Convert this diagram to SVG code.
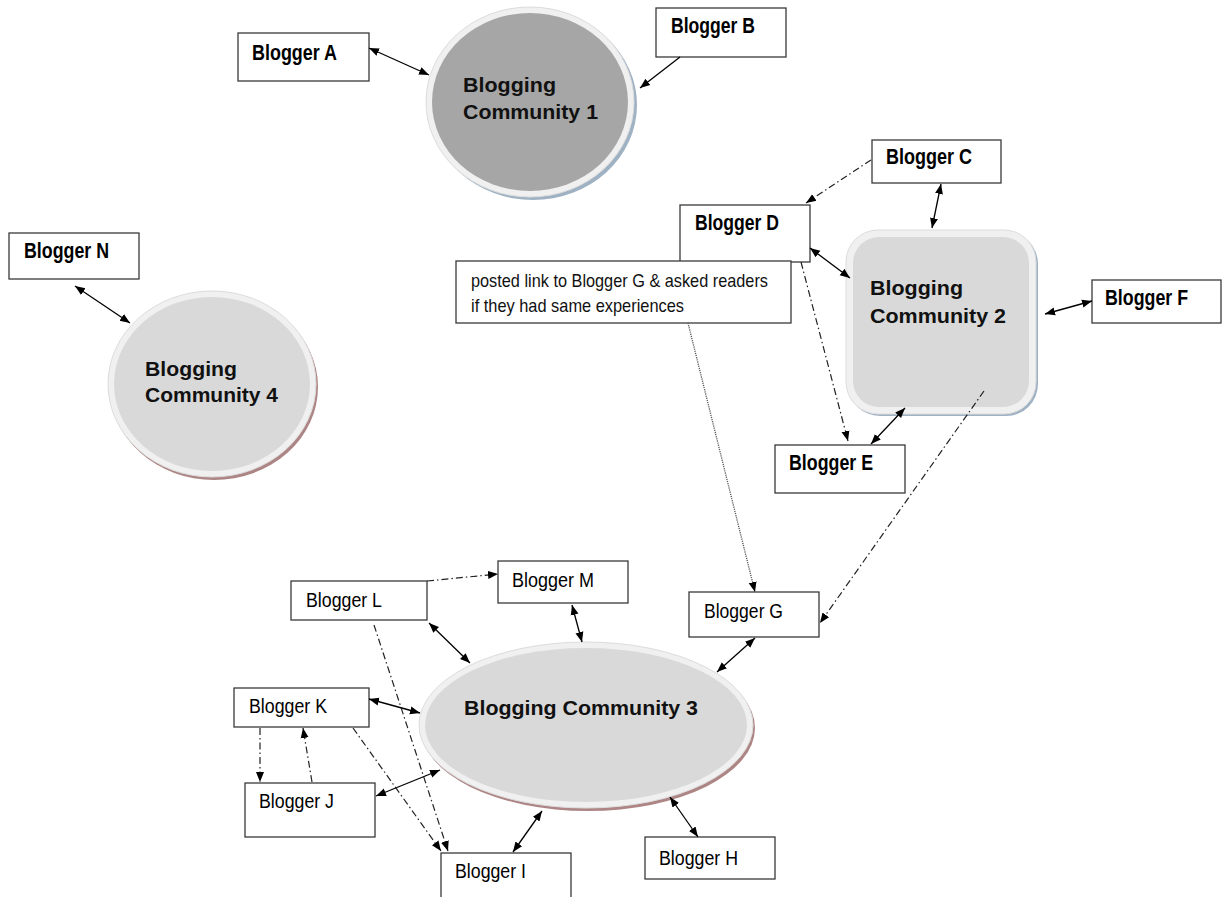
<svg xmlns="http://www.w3.org/2000/svg" width="1222" height="897" viewBox="0 0 1222 897">
<style>
.box{fill:#fff;stroke:#3a3a3a;stroke-width:1.3}
.bt{font-family:"Liberation Sans Narrow","Liberation Sans",Arial,sans-serif;font-weight:bold;font-size:22px;fill:#000}
.rt{font-family:"Liberation Sans Narrow","Liberation Sans",Arial,sans-serif;font-size:20px;fill:#000}
.nt{font-family:"Liberation Sans Narrow","Liberation Sans",Arial,sans-serif;font-size:19px;fill:#111}
.ct{font-family:"Liberation Sans",Arial,sans-serif;font-weight:bold;font-size:21px;fill:#111}
.rim{fill:#f0f0f0;stroke:#dcdcdc;stroke-width:1}
.shb{fill:#9fb2c4}
.shr{fill:#ad8585}
.solid{stroke:#000;stroke-width:1.3;fill:none}
.dd{stroke:#222;stroke-width:1.2;fill:none;stroke-dasharray:7 3 1.5 3}
.dot{stroke:#555;stroke-width:1.3;fill:none;stroke-dasharray:1.2 1}
</style>
<defs>
<marker id="ah" viewBox="0 0 10 10" refX="10" refY="5" markerWidth="10" markerHeight="10" markerUnits="userSpaceOnUse" orient="auto-start-reverse">
<path d="M0,1 L10,5 L0,9 z" fill="#000"/>
</marker>
</defs>
<rect width="1222" height="897" fill="#fff"/>

<g id="community1">
<ellipse cx="533" cy="105" rx="104" ry="95" class="shb"/>
<ellipse cx="530" cy="102" rx="104" ry="95" class="rim"/>
<ellipse cx="530" cy="102" rx="98" ry="89" fill="#a6a6a6"/>
<text class="ct" x="463" y="92" textLength="93" lengthAdjust="spacingAndGlyphs">Blogging</text>
<text class="ct" x="463" y="119" textLength="135" lengthAdjust="spacingAndGlyphs">Community 1</text>
</g>

<g id="community2">
<rect x="848" y="232" width="190" height="184" rx="32" class="shb"/>
<rect x="846" y="230" width="190" height="184" rx="32" class="rim"/>
<rect x="853" y="237" width="176" height="170" rx="26" fill="#d9d9d9"/>
<text class="ct" x="870" y="295" textLength="93" lengthAdjust="spacingAndGlyphs">Blogging</text>
<text class="ct" x="870" y="323" textLength="136" lengthAdjust="spacingAndGlyphs">Community 2</text>
</g>

<g id="community4">
<ellipse cx="214" cy="387" rx="104" ry="93" class="shr"/>
<ellipse cx="212" cy="384" rx="104" ry="93" class="rim"/>
<ellipse cx="212" cy="384" rx="98" ry="87" fill="#d9d9d9"/>
<text class="ct" x="145" y="376" textLength="92" lengthAdjust="spacingAndGlyphs">Blogging</text>
<text class="ct" x="145" y="402" textLength="133" lengthAdjust="spacingAndGlyphs">Community 4</text>
</g>

<g id="community3">
<ellipse cx="588" cy="728" rx="167" ry="83" class="shr"/>
<ellipse cx="586" cy="725" rx="167" ry="83" class="rim"/>
<ellipse cx="586" cy="725" rx="161" ry="77" fill="#d9d9d9"/>
<text class="ct" x="464" y="715" textLength="234" lengthAdjust="spacingAndGlyphs">Blogging Community 3</text>
</g>

<g id="bloggerA"><rect class="box" x="238" y="33" width="131" height="48"/><text class="bt" x="252" y="60" textLength="85" lengthAdjust="spacingAndGlyphs">Blogger A</text></g>
<g id="bloggerB"><rect class="box" x="656" y="8" width="130" height="49"/><text class="bt" x="671" y="33" textLength="84" lengthAdjust="spacingAndGlyphs">Blogger B</text></g>
<g id="bloggerC"><rect class="box" x="872" y="140" width="129" height="43"/><text class="bt" x="886" y="164" textLength="86" lengthAdjust="spacingAndGlyphs">Blogger C</text></g>
<g id="bloggerD"><rect class="box" x="680" y="205" width="130" height="57"/><text class="bt" x="695" y="230" textLength="84" lengthAdjust="spacingAndGlyphs">Blogger D</text></g>
<g id="bloggerE"><rect class="box" x="775" y="445" width="130" height="48"/><text class="bt" x="789" y="470" textLength="84" lengthAdjust="spacingAndGlyphs">Blogger E</text></g>
<g id="bloggerF"><rect class="box" x="1092" y="280" width="129" height="43"/><text class="bt" x="1105" y="305" textLength="83" lengthAdjust="spacingAndGlyphs">Blogger F</text></g>
<g id="bloggerN"><rect class="box" x="9" y="233" width="130" height="46"/><text class="bt" x="24" y="258" textLength="85" lengthAdjust="spacingAndGlyphs">Blogger N</text></g>

<g id="note"><rect class="box" x="456" y="261" width="335" height="62"/>
<text class="nt" x="471" y="287" textLength="297" lengthAdjust="spacingAndGlyphs">posted link to Blogger G &amp; asked readers</text>
<text class="nt" x="471" y="312" textLength="213" lengthAdjust="spacingAndGlyphs">if they  had same experiences</text></g>

<g id="bloggerG"><rect class="box" x="689" y="592" width="130" height="45"/><text class="rt" x="704" y="618" textLength="79" lengthAdjust="spacingAndGlyphs">Blogger G</text></g>
<g id="bloggerH"><rect class="box" x="645" y="837" width="130" height="42"/><text class="rt" x="659" y="865" textLength="79" lengthAdjust="spacingAndGlyphs">Blogger H</text></g>
<g id="bloggerI"><rect class="box" x="441" y="853" width="130" height="60"/><text class="rt" x="455" y="878" textLength="71" lengthAdjust="spacingAndGlyphs">Blogger I</text></g>
<g id="bloggerJ"><rect class="box" x="245" y="783" width="130" height="54"/><text class="rt" x="259" y="808" textLength="75" lengthAdjust="spacingAndGlyphs">Blogger J</text></g>
<g id="bloggerK"><rect class="box" x="234" y="688" width="135" height="39"/><text class="rt" x="249" y="713" textLength="78" lengthAdjust="spacingAndGlyphs">Blogger K</text></g>
<g id="bloggerL"><rect class="box" x="291" y="581" width="136" height="39"/><text class="rt" x="306" y="607" textLength="76" lengthAdjust="spacingAndGlyphs">Blogger L</text></g>
<g id="bloggerM"><rect class="box" x="498" y="561" width="130" height="42"/><text class="rt" x="512" y="587" textLength="82" lengthAdjust="spacingAndGlyphs">Blogger M</text></g>

<g id="connectors">
<line class="solid" x1="369" y1="48" x2="429" y2="75" marker-start="url(#ah)" marker-end="url(#ah)"/>
<line class="solid" x1="680" y1="57" x2="640" y2="88" marker-end="url(#ah)"/>
<line class="solid" x1="75" y1="286" x2="130" y2="323" marker-start="url(#ah)" marker-end="url(#ah)"/>
<line class="dd" x1="871" y1="160" x2="806" y2="203" marker-end="url(#ah)"/>
<line class="solid" x1="941" y1="184" x2="932" y2="228" marker-start="url(#ah)" marker-end="url(#ah)"/>
<line class="solid" x1="810" y1="248" x2="850" y2="278" marker-start="url(#ah)" marker-end="url(#ah)"/>
<line class="dd" x1="801" y1="262" x2="848" y2="441" marker-end="url(#ah)"/>
<line class="solid" x1="905" y1="408" x2="871" y2="444" marker-start="url(#ah)" marker-end="url(#ah)"/>
<line class="solid" x1="1045" y1="314" x2="1092" y2="301" marker-start="url(#ah)" marker-end="url(#ah)"/>
<line class="dot" x1="688" y1="323" x2="755" y2="592" marker-end="url(#ah)"/>
<line class="dd" x1="984" y1="391" x2="820" y2="623" marker-end="url(#ah)"/>
<line class="solid" x1="755" y1="638" x2="717" y2="672" marker-start="url(#ah)" marker-end="url(#ah)"/>
<line class="solid" x1="670" y1="797" x2="698" y2="837" marker-start="url(#ah)" marker-end="url(#ah)"/>
<line class="solid" x1="542" y1="811" x2="513" y2="852" marker-start="url(#ah)" marker-end="url(#ah)"/>
<line class="solid" x1="376" y1="796" x2="440" y2="770" marker-start="url(#ah)" marker-end="url(#ah)"/>
<line class="solid" x1="369" y1="699" x2="420" y2="713" marker-start="url(#ah)" marker-end="url(#ah)"/>
<line class="solid" x1="429" y1="623" x2="470" y2="663" marker-start="url(#ah)" marker-end="url(#ah)"/>
<line class="solid" x1="572" y1="605" x2="582" y2="642" marker-start="url(#ah)" marker-end="url(#ah)"/>
<line class="dd" x1="427" y1="581" x2="498" y2="574" marker-end="url(#ah)"/>
<line class="dd" x1="260" y1="728" x2="260" y2="782" marker-end="url(#ah)"/>
<line class="dd" x1="312" y1="782" x2="303" y2="728" marker-end="url(#ah)"/>
<line class="dd" x1="353" y1="728" x2="441" y2="851" marker-end="url(#ah)"/>
<line class="dd" x1="374" y1="625" x2="448" y2="851" marker-end="url(#ah)"/>
</g>
</svg>
